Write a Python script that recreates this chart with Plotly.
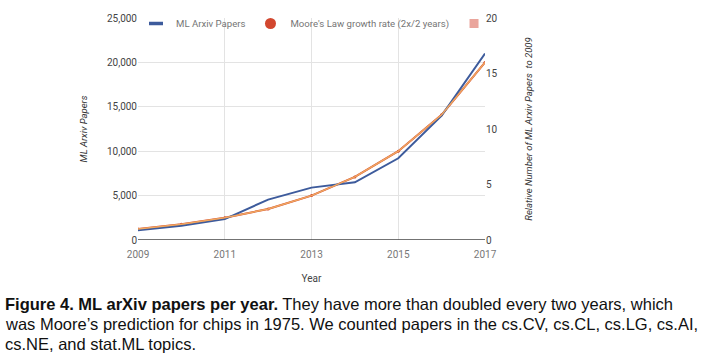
import plotly.graph_objects as go

years = [2009, 2010, 2011, 2012, 2013, 2014, 2015, 2016, 2017]
ml_papers = [1100, 1600, 2350, 4550, 5900, 6500, 9200, 14000, 21000]
moore = [1250, 1770, 2500, 3500, 5000, 7100, 10000, 14100, 20000]
relative_moore = [1.0, 1.42, 2.0, 2.8, 4.0, 5.68, 8.0, 11.28, 16.0]

left_ticks = [0, 5000, 10000, 15000, 20000, 25000]
left_labels = ["0", "5,000", "10,000", "15,000", "20,000", "25,000"]
right_ticks = [0, 5, 10, 15, 20]
x_ticks = [2009, 2011, 2013, 2015, 2017]

BLUE = "#3d5b9c"
RED = "#d2472f"
SALMON = "#eaa59c"
ORANGE = "#f0a860"

# plot area in pixels
L, R, T, B = 138, 485, 18, 240
W, H = 720, 358


def px_x(x):
    return (x - L) / (R - L)


def px_y(y):
    return (B - y) / (B - T)


fig = go.Figure()

fig.add_trace(go.Scatter(x=years, y=relative_moore, yaxis="y2", mode="lines",
                         line=dict(color=ORANGE, width=1.5), showlegend=False,
                         hoverinfo="skip"))
fig.add_trace(go.Scatter(x=years, y=moore, mode="lines+markers",
                         line=dict(color=RED, width=2),
                         marker=dict(size=3, color=RED), showlegend=False))
fig.add_trace(go.Scatter(x=years, y=ml_papers, mode="lines",
                         line=dict(color=BLUE, width=2), showlegend=False))

# legend entries
fig.add_trace(go.Scatter(x=[None], y=[None], mode="markers", name="ML Arxiv Papers",
                         marker=dict(symbol="line-ew", size=10,
                                     line=dict(color=BLUE, width=3.5))))
fig.add_trace(go.Scatter(x=[None], y=[None], mode="markers",
                         name="Moore's Law growth rate (2x/2 years)",
                         marker=dict(size=11, color=RED, symbol="circle")))
fig.add_trace(go.Scatter(x=[None], y=[None], mode="markers", name=" ",
                         marker=dict(size=9, color=SALMON, symbol="square")))

fig.update_layout(
    width=W, height=H,
    margin=dict(l=L, r=W - R, t=T, b=H - B, autoexpand=False),
    paper_bgcolor="white", plot_bgcolor="white",
    font=dict(family="Roboto, Arial, sans-serif", color="#444444", size=10),
    showlegend=True,
    legend=dict(orientation="h", x=px_x(136), y=px_y(9), xanchor="left", yanchor="top",
                bgcolor="rgba(0,0,0,0)", font=dict(size=9.6, color="#757575"),
                itemwidth=30, tracegroupgap=0),
    xaxis=dict(range=[2009, 2017], tickvals=x_ticks, ticktext=[str(v) for v in x_ticks],
               showgrid=True, gridcolor="#e3e3e3", gridwidth=1,
               zeroline=False, showline=False, ticks="outside", ticklen=5,
               tickcolor="rgba(0,0,0,0)",
               tickfont=dict(size=10, color="#777777"),
               title=dict(text="Year", font=dict(size=10, color="#444444"), standoff=15)),
    yaxis=dict(range=[0, 25000], tickvals=left_ticks, ticktext=left_labels,
               showgrid=True, gridcolor="#e3e3e3", gridwidth=1,
               zeroline=False, showline=False, ticks="",
               tickfont=dict(size=10, color="#444444"),
               title=dict(text="<i>ML Arxiv Papers</i>", font=dict(size=9.5, color="#333333"),
                          standoff=17)),
    yaxis2=dict(range=[0, 20], tickvals=right_ticks, overlaying="y", side="right",
                showgrid=False, zeroline=False, showline=False, ticks="",
                tickfont=dict(size=10, color="#444444"),
                title=dict(text="<i>Relative Number of ML Arxiv Papers  to 2009</i>",
                           font=dict(size=9.5, color="#333333"), standoff=28)),
)

# dark baseline
fig.add_shape(type="line", xref="paper", yref="y", x0=0, x1=1, y0=0, y1=0,
              line=dict(color="#444444", width=1.5), layer="above")

caption = [
    "<b>Figure 4. ML arXiv papers per year.</b> They have more than doubled every two years, which",
    "was Moore\u2019s prediction for chips in 1975. We counted papers in the cs.CV, cs.CL, cs.LG, cs.AI,",
    "cs.NE, and stat.ML topics.",
]
for i, line in enumerate(caption):
    fig.add_annotation(text=line, xref="paper", yref="paper",
                       x=px_x(3), y=px_y(304 + 20 * i), xanchor="left", yanchor="middle",
                       showarrow=False, align="left",
                       font=dict(family="Liberation Sans, Arial, sans-serif", size=16.5,
                                 color="#111111"))

fig.write_html("out.html", config={"displayModeBar": False},
               post_script="document.body.style.margin='0';document.body.style.padding='0';")
